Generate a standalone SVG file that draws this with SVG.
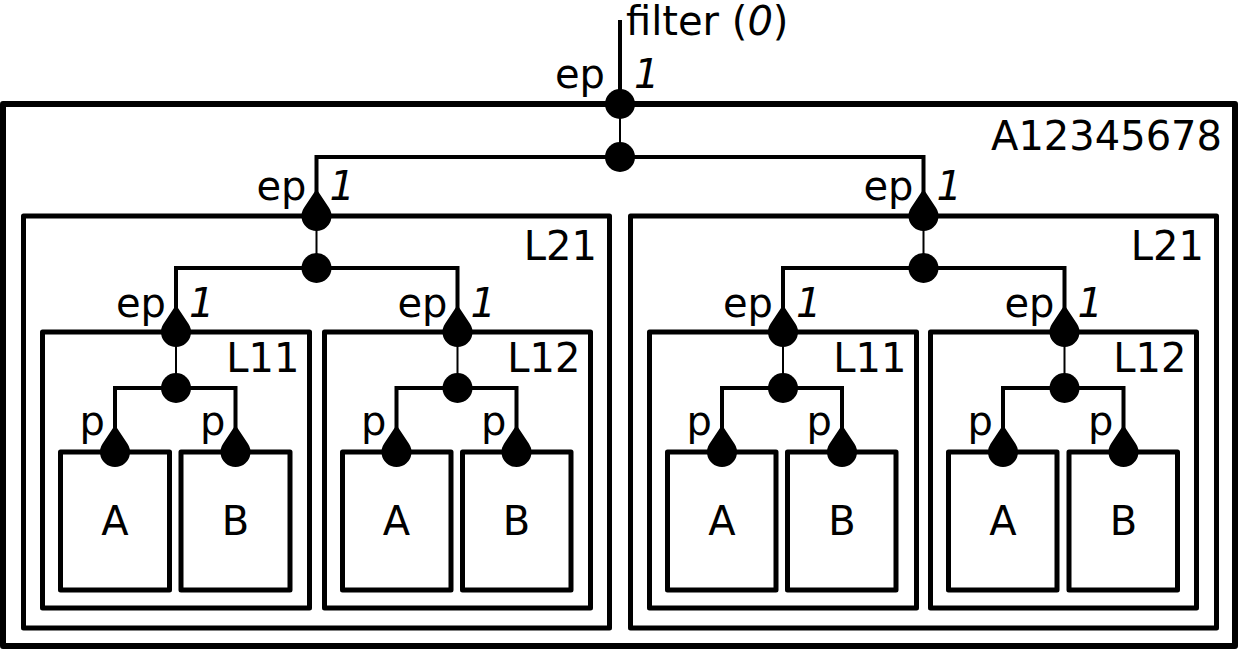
<svg xmlns="http://www.w3.org/2000/svg" xmlns:xlink="http://www.w3.org/1999/xlink" width="1240" height="650" viewBox="0 0 1240 650">
<style>
  .box { fill: #fff; stroke: #000; stroke-width: 5; stroke-linejoin: round; }
  .outer { stroke-width: 6; }
  .lbl { font-family: "DejaVu Sans", "Liberation Sans", sans-serif; font-size: 40px; fill: #000; }
  .end { text-anchor: end; }
  .mid { text-anchor: middle; }
  .it { font-style: italic; }
  .wire { fill: none; stroke: #000; stroke-width: 4; }
  .thin { fill: none; stroke: #000; stroke-width: 2; }
  .dot { fill: #000; }
</style>
<defs>
  <path id="drop" d="M0,-27 L12.47,-8.33 A15,15 0 1 1 -12.47,-8.33 Z" fill="#000"/>
</defs>
<rect x="0" y="0" width="1240" height="650" fill="#fff"/>

<g id="A12345678">
  <rect class="box outer" x="3" y="104" width="1232" height="542"/>
  <text class="lbl end" x="1222" y="150">A12345678</text>
</g>

<g id="L21_left">
  <rect class="box" x="23.5" y="216" width="586" height="412"/>
  <text class="lbl end" x="597" y="260">L21</text>
</g>
<g id="L21_right">
  <rect class="box" x="630.5" y="216" width="586" height="412"/>
  <text class="lbl end" x="1204" y="260">L21</text>
</g>

<g id="L11_left">
  <rect class="box" x="42.5" y="332" width="267" height="276"/>
  <text class="lbl end" x="299.5" y="372">L11</text>
</g>
<g id="L12_left">
  <rect class="box" x="324.5" y="332" width="266" height="276"/>
  <text class="lbl end" x="580.5" y="372">L12</text>
</g>
<g id="L11_right">
  <rect class="box" x="649.5" y="332" width="267" height="276"/>
  <text class="lbl end" x="906.5" y="372">L11</text>
</g>
<g id="L12_right">
  <rect class="box" x="930.5" y="332" width="266" height="276"/>
  <text class="lbl end" x="1186.5" y="372">L12</text>
</g>

<g id="A_L11_left">
  <rect class="box" x="60.5" y="452" width="109" height="138"/>
  <text class="lbl mid" x="115" y="535">A</text>
</g>
<g id="B_L11_left">
  <rect class="box" x="181" y="452" width="109" height="138"/>
  <text class="lbl mid" x="235.5" y="535">B</text>
</g>
<g id="A_L12_left">
  <rect class="box" x="342.5" y="452" width="108.5" height="138"/>
  <text class="lbl mid" x="396.5" y="535">A</text>
</g>
<g id="B_L12_left">
  <rect class="box" x="462.5" y="452" width="108.5" height="138"/>
  <text class="lbl mid" x="516.5" y="535">B</text>
</g>
<g id="A_L11_right">
  <rect class="box" x="667.5" y="452" width="108.5" height="138"/>
  <text class="lbl mid" x="722" y="535">A</text>
</g>
<g id="B_L11_right">
  <rect class="box" x="787.5" y="452" width="108.5" height="138"/>
  <text class="lbl mid" x="842" y="535">B</text>
</g>
<g id="A_L12_right">
  <rect class="box" x="948.5" y="452" width="108.5" height="138"/>
  <text class="lbl mid" x="1003" y="535">A</text>
</g>
<g id="B_L12_right">
  <rect class="box" x="1069" y="452" width="108.5" height="138"/>
  <text class="lbl mid" x="1123.5" y="535">B</text>
</g>

<g id="connectors">
  <line class="wire" x1="620" y1="20" x2="620" y2="104"/>
  <line class="thin" x1="620" y1="104" x2="620" y2="157"/>
  <path class="wire" d="M316.5,200 V157 H923.5 V200"/>
  <circle class="dot" cx="620" cy="104" r="15"/>
  <circle class="dot" cx="620" cy="157" r="15"/>

  <line class="thin" x1="316.5" y1="216" x2="316.5" y2="268"/>
  <line class="thin" x1="923.5" y1="216" x2="923.5" y2="268"/>
  <path class="wire" d="M176,316 V268 H457.5 V316"/>
  <path class="wire" d="M783,316 V268 H1064.5 V316"/>
  <use xlink:href="#drop" x="316.5" y="216"/>
  <use xlink:href="#drop" x="923.5" y="216"/>
  <circle class="dot" cx="316.5" cy="268" r="15"/>
  <circle class="dot" cx="923.5" cy="268" r="15"/>

  <line class="thin" x1="176" y1="332" x2="176" y2="388"/>
  <line class="thin" x1="457.5" y1="332" x2="457.5" y2="388"/>
  <line class="thin" x1="783" y1="332" x2="783" y2="388"/>
  <line class="thin" x1="1064.5" y1="332" x2="1064.5" y2="388"/>
  <path class="wire" d="M115,436 V388 H235.5 V436"/>
  <path class="wire" d="M396.5,436 V388 H516.5 V436"/>
  <path class="wire" d="M722,436 V388 H842 V436"/>
  <path class="wire" d="M1003,436 V388 H1123.5 V436"/>
  <use xlink:href="#drop" x="176" y="332"/>
  <use xlink:href="#drop" x="457.5" y="332"/>
  <use xlink:href="#drop" x="783" y="332"/>
  <use xlink:href="#drop" x="1064.5" y="332"/>
  <circle class="dot" cx="176" cy="388" r="15"/>
  <circle class="dot" cx="457.5" cy="388" r="15"/>
  <circle class="dot" cx="783" cy="388" r="15"/>
  <circle class="dot" cx="1064.5" cy="388" r="15"/>

  <use xlink:href="#drop" x="115" y="452"/>
  <use xlink:href="#drop" x="235.5" y="452"/>
  <use xlink:href="#drop" x="396.5" y="452"/>
  <use xlink:href="#drop" x="516.5" y="452"/>
  <use xlink:href="#drop" x="722" y="452"/>
  <use xlink:href="#drop" x="842" y="452"/>
  <use xlink:href="#drop" x="1003" y="452"/>
  <use xlink:href="#drop" x="1123.5" y="452"/>
</g>

<g id="port-labels">
  <text class="lbl" x="626" y="35">filter (<tspan class="it">0</tspan>)</text>
  <text class="lbl end" x="605" y="88">ep</text>
  <text class="lbl it" x="634" y="88">1</text>

  <text class="lbl end" x="306.5" y="200">ep</text>
  <text class="lbl it" x="329.5" y="200">1</text>
  <text class="lbl end" x="913.5" y="200">ep</text>
  <text class="lbl it" x="936.5" y="200">1</text>

  <text class="lbl end" x="166" y="317">ep</text>
  <text class="lbl it" x="189" y="317">1</text>
  <text class="lbl end" x="447.5" y="317">ep</text>
  <text class="lbl it" x="470.5" y="317">1</text>
  <text class="lbl end" x="773" y="317">ep</text>
  <text class="lbl it" x="796" y="317">1</text>
  <text class="lbl end" x="1054.5" y="317">ep</text>
  <text class="lbl it" x="1077.5" y="317">1</text>

  <text class="lbl end" x="105" y="435">p</text>
  <text class="lbl end" x="225.5" y="435">p</text>
  <text class="lbl end" x="386.5" y="435">p</text>
  <text class="lbl end" x="506.5" y="435">p</text>
  <text class="lbl end" x="712" y="435">p</text>
  <text class="lbl end" x="832" y="435">p</text>
  <text class="lbl end" x="993" y="435">p</text>
  <text class="lbl end" x="1113.5" y="435">p</text>
</g>
</svg>
